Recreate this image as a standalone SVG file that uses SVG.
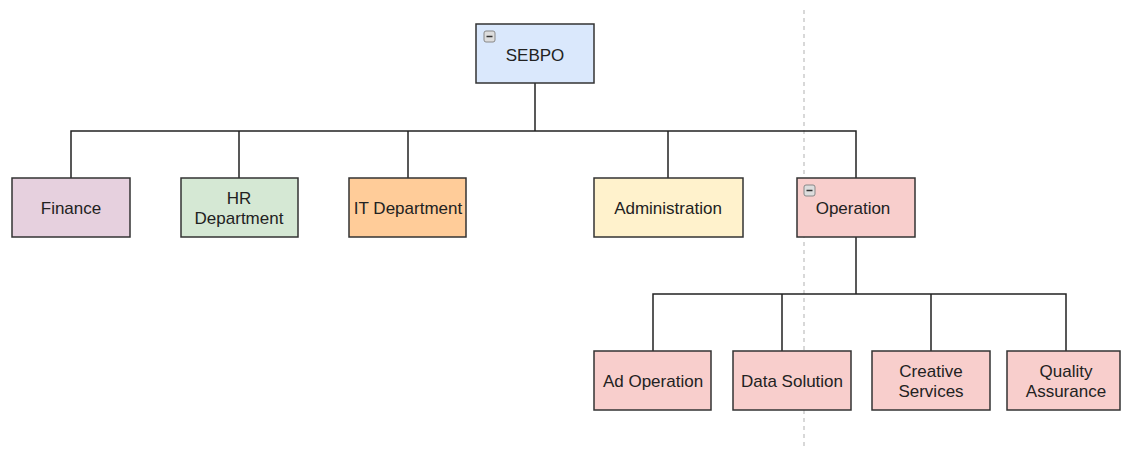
<svg xmlns="http://www.w3.org/2000/svg" width="1121" height="450" viewBox="0 0 1121 450">
<style>
.box{stroke:#333;stroke-width:1.5}
.t{font-family:"Liberation Sans",Arial,sans-serif;font-size:17px;fill:#222;text-anchor:middle}
.ln{stroke:#222;stroke-width:1.5;fill:none}
.icon{fill:#ddd;stroke:#888;stroke-width:1}
</style>
<rect width="1121" height="450" fill="#fff"/>
<line x1="804" y1="10" x2="804" y2="450" stroke="#ccc" stroke-width="1.5" stroke-dasharray="4 4"/>
<g id="connectors">
<path class="ln" d="M535 83V131" stroke-width="2.5"/>
<path class="ln" d="M71 178V131H856V178M239 131V178M408 131V178M668 131V178"/>
<path class="ln" d="M856 237V294" stroke-width="2.5"/>
<path class="ln" d="M653 351V294H1066V351M782 294V351M931 294V351"/>
</g>
<g id="sebpo"><rect class="box" x="476" y="24" width="118" height="59" fill="#dae8fc"/><rect class="icon" x="484" y="31" width="11" height="11" rx="2"/><line x1="486.5" y1="36.5" x2="492.5" y2="36.5" stroke="#333" stroke-width="1.5"/><text class="t" x="535" y="61">SEBPO</text></g>
<g id="finance"><rect class="box" x="12" y="178" width="118" height="59" fill="#e6d0de"/><text class="t" x="71" y="214">Finance</text></g>
<g id="hr"><rect class="box" x="181" y="178" width="117" height="59" fill="#d5e8d4"/><text class="t" x="239" y="204">HR</text><text class="t" x="239" y="224">Department</text></g>
<g id="it"><rect class="box" x="349" y="178" width="117" height="59" fill="#ffcc99"/><text class="t" x="408" y="214">IT Department</text></g>
<g id="admin"><rect class="box" x="594" y="178" width="149" height="59" fill="#fff2cc"/><text class="t" x="668" y="214">Administration</text></g>
<g id="operation"><rect class="box" x="797" y="178" width="118" height="59" fill="#f8cecc"/><rect class="icon" x="804" y="185" width="11" height="11" rx="2"/><line x1="806.5" y1="190.5" x2="812.5" y2="190.5" stroke="#333" stroke-width="1.5"/><text class="t" x="853" y="214">Operation</text></g>
<g id="adop"><rect class="box" x="594" y="351" width="117" height="59" fill="#f8cecc"/><text class="t" x="653" y="387">Ad Operation</text></g>
<g id="data"><rect class="box" x="733" y="351" width="118" height="59" fill="#f8cecc"/><text class="t" x="792" y="387">Data Solution</text></g>
<g id="creative"><rect class="box" x="872" y="351" width="118" height="59" fill="#f8cecc"/><text class="t" x="931" y="377">Creative</text><text class="t" x="931" y="397">Services</text></g>
<g id="qa"><rect class="box" x="1007" y="351" width="113" height="59" fill="#f8cecc"/><text class="t" x="1066" y="377">Quality</text><text class="t" x="1066" y="397">Assurance</text></g>
</svg>
